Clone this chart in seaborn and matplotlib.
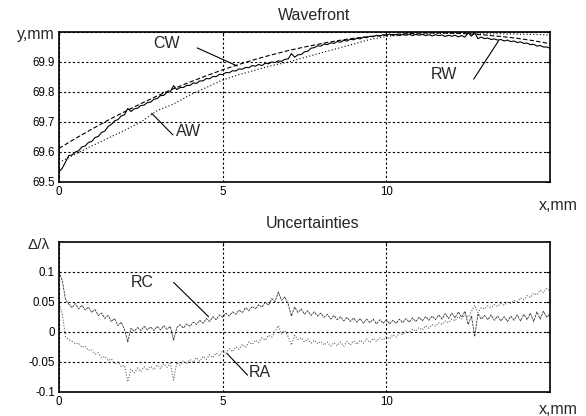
import numpy as np
import matplotlib
matplotlib.use("Agg")
import matplotlib.pyplot as plt
import seaborn as sns

# ---------------- data ----------------
x_fine = [round(i * 0.1, 1) for i in range(151)]
x_coarse = [round(i * 0.5, 1) for i in range(31)]

# calculated wavefront CW (dashed)
cw = [69.612, 69.645, 69.676, 69.706, 69.734, 69.761, 69.787, 69.811, 69.833, 69.854,
      69.874, 69.892, 69.909, 69.924, 69.938, 69.950, 69.961, 69.971, 69.979, 69.985,
      69.990, 69.994, 69.996, 69.997, 69.996, 69.994, 69.990, 69.985, 69.979, 69.971,
      69.961]

# approximated wavefront AW (dotted)
aw = [69.565, 69.593, 69.620, 69.646, 69.672, 69.700, 69.738, 69.760, 69.790, 69.815,
      69.840, 69.858, 69.873, 69.888, 69.900, 69.915, 69.930, 69.945, 69.960, 69.975,
      69.985, 69.990, 69.993, 69.995, 69.995, 69.995, 69.994, 69.994, 69.993, 69.992,
      69.990]

# real wavefront RW (solid, noisy)
rw = [69.534, 69.546, 69.567, 69.588, 69.590, 69.600, 69.604, 69.617, 69.620, 69.632,
      69.635, 69.648, 69.652, 69.665, 69.670, 69.685, 69.692, 69.704, 69.708, 69.720,
      69.724, 69.745, 69.735, 69.744, 69.746, 69.755, 69.756, 69.765, 69.766, 69.776,
      69.778, 69.788, 69.789, 69.799, 69.801, 69.821, 69.808, 69.815, 69.815, 69.822,
      69.822, 69.830, 69.829, 69.837, 69.837, 69.845, 69.844, 69.852, 69.851, 69.859,
      69.858, 69.865, 69.864, 69.871, 69.870, 69.877, 69.876, 69.882, 69.881, 69.888,
      69.886, 69.892, 69.888, 69.896, 69.894, 69.900, 69.898, 69.904, 69.902, 69.909,
      69.910, 69.928, 69.916, 69.924, 69.925, 69.934, 69.936, 69.946, 69.948, 69.954,
      69.953, 69.960, 69.958, 69.964, 69.962, 69.968, 69.966, 69.972, 69.970, 69.976,
      69.974, 69.979, 69.977, 69.983, 69.981, 69.986, 69.984, 69.989, 69.986, 69.991,
      69.989, 69.993, 69.989, 69.992, 69.988, 69.992, 69.989, 69.993, 69.988, 69.992,
      69.989, 69.992, 69.988, 69.991, 69.987, 69.991, 69.988, 69.990, 69.985, 69.989,
      69.986, 69.989, 69.984, 69.988, 69.983, 69.997, 69.986, 69.998, 69.978, 69.983,
      69.978, 69.980, 69.975, 69.977, 69.973, 69.975, 69.970, 69.973, 69.968, 69.970,
      69.965, 69.967, 69.962, 69.963, 69.958, 69.959, 69.953, 69.955, 69.950, 69.950,
      69.946]

# uncertainty RC (dark, dashed)
rc = [0.100, 0.085, 0.053, 0.046, 0.040, 0.047, 0.038, 0.044, 0.036, 0.041,
      0.032, 0.037, 0.027, 0.031, 0.022, 0.027, 0.017, 0.022, 0.010, 0.016,
      0.004, -0.017, 0.006, 0.001, 0.007, 0.002, 0.009, 0.003, 0.008, 0.002,
      0.009, 0.003, 0.010, 0.004, 0.009, -0.014, 0.007, 0.012, 0.006, 0.013,
      0.009, 0.016, 0.012, 0.019, 0.014, 0.022, 0.017, 0.025, 0.020, 0.028,
      0.024, 0.031, 0.026, 0.033, 0.029, 0.036, 0.032, 0.040, 0.035, 0.042,
      0.038, 0.045, 0.041, 0.049, 0.044, 0.055, 0.050, 0.066, 0.052, 0.058,
      0.046, 0.026, 0.041, 0.032, 0.038, 0.029, 0.035, 0.027, 0.033, 0.026,
      0.031, 0.024, 0.029, 0.021, 0.027, 0.020, 0.025, 0.018, 0.024, 0.017,
      0.023, 0.016, 0.022, 0.014, 0.021, 0.015, 0.021, 0.013, 0.020, 0.014,
      0.020, 0.013, 0.019, 0.014, 0.021, 0.015, 0.022, 0.016, 0.023, 0.017,
      0.024, 0.018, 0.025, 0.019, 0.026, 0.020, 0.028, 0.021, 0.030, 0.022,
      0.031, 0.023, 0.033, 0.024, 0.034, 0.012, 0.026, -0.008, 0.030, 0.021,
      0.027, 0.020, 0.028, 0.019, 0.026, 0.018, 0.025, 0.017, 0.026, 0.019,
      0.028, 0.018, 0.029, 0.020, 0.031, 0.017, 0.033, 0.021, 0.034, 0.024,
      0.030]

# uncertainty RA (grey, dotted)
ra = [0.047, 0.030, -0.008, -0.013, -0.016, -0.020, -0.019, -0.026, -0.024, -0.031,
      -0.030, -0.037, -0.035, -0.043, -0.041, -0.048, -0.045, -0.053, -0.050, -0.058,
      -0.056, -0.083, -0.062, -0.068, -0.060, -0.066, -0.058, -0.064, -0.057, -0.063,
      -0.055, -0.061, -0.053, -0.059, -0.052, -0.080, -0.051, -0.056, -0.048, -0.053,
      -0.046, -0.051, -0.043, -0.049, -0.041, -0.046, -0.038, -0.043, -0.035, -0.040,
      -0.032, -0.036, -0.028, -0.033, -0.025, -0.029, -0.021, -0.026, -0.017, -0.021,
      -0.014, -0.018, -0.010, -0.014, -0.006, -0.009, 0.000, 0.010, -0.004, 0.002,
      -0.008, -0.022, -0.006, -0.013, -0.010, -0.017, -0.012, -0.019, -0.014, -0.020,
      -0.016, -0.022, -0.017, -0.024, -0.018, -0.023, -0.017, -0.024, -0.016, -0.022,
      -0.015, -0.021, -0.014, -0.019, -0.012, -0.018, -0.011, -0.016, -0.010, -0.014,
      -0.008, -0.012, -0.005, -0.009, -0.002, -0.005, 0.001, -0.002, 0.004, 0.001,
      0.007, 0.003, 0.010, 0.006, 0.012, 0.009, 0.015, 0.012, 0.018, 0.015,
      0.021, 0.018, 0.025, 0.021, 0.028, 0.024, 0.034, 0.044, 0.032, 0.040,
      0.038, 0.043, 0.040, 0.045, 0.042, 0.047, 0.044, 0.049, 0.047, 0.052,
      0.050, 0.056, 0.053, 0.060, 0.057, 0.064, 0.061, 0.069, 0.065, 0.072,
      0.068]

x_ticks = [0, 5, 10]
top_yticks = [69.5, 69.6, 69.7, 69.8, 69.9, 70.0]
top_ylabels = ["69.5", "69.6", "69.7", "69.8", "69.9", ""]
bot_yticks = [-0.1, -0.05, 0, 0.05, 0.1]
bot_ylabels = ["-0.1", "-0.05", "0", "0.05", "0.1"]

# ---------------- style ----------------
sns.set_style("white")
plt.rcParams['font.family'] = ['Liberation Sans', 'DejaVu Sans']

W, H = 586, 416
fig = plt.figure(figsize=(W / 100, H / 100), dpi=100)
ax1 = fig.add_axes([59 / W, 1 - 182 / H, 491 / W, 150 / H])
ax2 = fig.add_axes([59 / W, 1 - 392 / H, 491 / W, 150 / H])

def style_axes(ax, yticks, ylabels, ylim):
    ax.set_xlim(0, 15)
    ax.set_ylim(*ylim)
    ax.set_xticks(x_ticks)
    ax.set_xticklabels([str(t) for t in x_ticks])
    ax.set_yticks(yticks)
    ax.set_yticklabels(ylabels)
    ax.grid(True, color='k', linestyle=(0, (2, 2)), linewidth=0.8)
    ax.tick_params(direction='in', length=3, width=0.8, top=True, right=True,
                   labelsize=8.3, colors='k', pad=3)
    for s in ax.spines.values():
        s.set_linewidth(1.2)
        s.set_color('k')
    ax.set_xlabel("")
    ax.set_ylabel("")

# ---------------- top: wavefront ----------------
sns.lineplot(x=x_coarse, y=cw, ax=ax1, color='k', linewidth=0.8,
             linestyle=(0, (4, 2)), estimator=None)
sns.lineplot(x=x_coarse, y=aw, ax=ax1, color='k', linewidth=0.8,
             linestyle=(0, (1, 2)), estimator=None)
sns.lineplot(x=x_fine, y=rw, ax=ax1, color='k', linewidth=0.8, estimator=None)
style_axes(ax1, top_yticks, top_ylabels, (69.5, 70.0))

ax1.plot([4.22, 5.44], [69.947, 69.887], color='k', lw=0.8)
ax1.text(3.3, 69.963, "CW", fontsize=11.5, ha='center', va='center')
ax1.plot([3.48, 2.83], [69.657, 69.729], color='k', lw=0.8)
ax1.text(3.95, 69.668, "AW", fontsize=11.5, ha='center', va='center')
ax1.plot([12.67, 13.43], [69.843, 69.971], color='k', lw=0.8)
ax1.text(11.75, 69.857, "RW", fontsize=11.5, ha='center', va='center')

# ---------------- bottom: uncertainties ----------------
sns.lineplot(x=x_fine, y=rc, ax=ax2, color='#333333', linewidth=0.6,
             linestyle=(0, (3, 1)), estimator=None)
sns.lineplot(x=x_fine, y=ra, ax=ax2, color='#666666', linewidth=0.8,
             linestyle=(0, (1, 1.5)), estimator=None)
style_axes(ax2, bot_yticks, bot_ylabels, (-0.1, 0.149))

ax2.plot([3.5, 4.57], [0.082, 0.025], color='k', lw=0.8)
ax2.text(2.53, 0.081, "RC", fontsize=11.5, ha='center', va='center')
ax2.plot([5.76, 5.13], [-0.072, -0.036], color='k', lw=0.8)
ax2.text(6.15, -0.068, "RA", fontsize=11.5, ha='center', va='center')

# ---------------- titles and axis names ----------------
fig.text(314 / W, 1 - 16 / H, "Wavefront", fontsize=11.5, ha='center', va='center')
fig.text(313 / W, 1 - 224 / H, "Uncertainties", fontsize=11.5, ha='center', va='center')
fig.text(55 / W, 1 - 35 / H, "y,mm", fontsize=11.5, ha='right', va='center')
fig.text(50 / W, 1 - 245 / H, "Δ/λ", fontsize=11, ha='right', va='center')
fig.text(558 / W, 1 - 205 / H, "x,mm", fontsize=11.5, ha='center', va='center')
fig.text(558 / W, 1 - 410 / H, "x,mm", fontsize=11.5, ha='center', va='center')

fig.savefig("out.png", dpi=100)
